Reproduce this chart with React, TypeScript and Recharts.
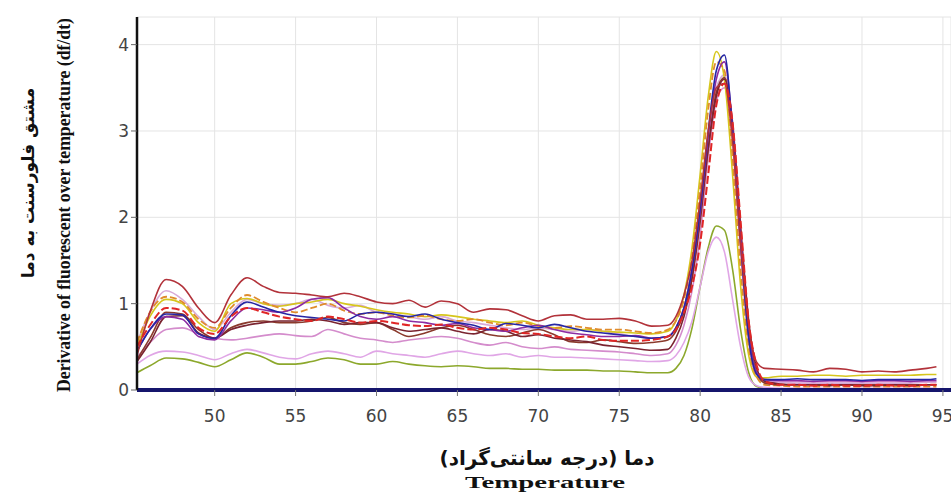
import React from "react";
import { LineChart, Line, XAxis, YAxis, CartesianGrid } from "recharts";

// temperature grid (°C): 45.2, 46..78, 78.5..84 by 0.5, 85..94, 94.6
const temps = [
  45.2, 46, 47, 48, 49, 50, 51, 52, 53, 54, 55, 56, 57, 58, 59, 60, 61, 62, 63, 64, 65, 66, 67,
  68, 69, 70, 71, 72, 73, 74, 75, 76, 77, 78, 78.5, 79, 79.5, 80, 80.5, 81, 81.5, 82, 82.5, 83,
  83.5, 84, 85, 86, 87, 88, 89, 90, 91, 92, 93, 94, 94.6,
];

const darkRed = [
  0.4, 0.9, 1.28, 1.2, 0.95, 0.78, 1.1, 1.3, 1.2, 1.13, 1.12, 1.1, 1.08, 1.12, 1.08, 1.02, 1.0,
  1.04, 0.96, 1.03, 1.0, 0.9, 0.94, 0.93, 0.86, 0.8, 0.86, 0.87, 0.82, 0.82, 0.83, 0.8, 0.74, 0.75,
  0.85, 1.1, 1.5, 2.2, 3.0, 3.5, 3.55, 2.9, 1.7, 0.75, 0.32, 0.25,
  0.24, 0.23, 0.21, 0.25, 0.24, 0.21, 0.22, 0.21, 0.23, 0.25, 0.27,
];
const maroon = [
  0.33, 0.55, 0.85, 0.86, 0.66, 0.6, 0.7, 0.75, 0.78, 0.8, 0.8, 0.82, 0.8, 0.76, 0.78, 0.78, 0.72,
  0.68, 0.7, 0.72, 0.68, 0.65, 0.7, 0.68, 0.62, 0.64, 0.6, 0.58, 0.56, 0.52, 0.5, 0.48, 0.46, 0.47,
  0.6, 0.85, 1.3, 2.0, 2.8, 3.4, 3.6, 3.1, 1.9, 0.8, 0.25, 0.1,
  0.07, 0.06, 0.06, 0.05, 0.06, 0.05, 0.05, 0.06, 0.05, 0.06, 0.06,
];
const brown = [
  0.35, 0.6, 0.9, 0.88, 0.7, 0.6, 0.72, 0.78, 0.8, 0.78, 0.78, 0.8, 0.84, 0.78, 0.76, 0.78, 0.7,
  0.62, 0.66, 0.72, 0.75, 0.7, 0.64, 0.62, 0.66, 0.7, 0.64, 0.56, 0.55, 0.58, 0.56, 0.54, 0.55, 0.58,
  0.68, 0.9, 1.3, 1.95, 2.8, 3.45, 3.62, 3.0, 1.8, 0.7, 0.2, 0.08,
  0.06, 0.06, 0.06, 0.06, 0.06, 0.06, 0.06, 0.06, 0.06, 0.06, 0.06,
];
const yellow = [
  0.5, 0.85, 1.05, 1.0, 0.78, 0.68, 1.0, 1.06, 1.0, 0.97, 1.0, 1.02, 1.05, 1.0, 0.97, 0.93, 0.9,
  0.88, 0.85, 0.87, 0.85, 0.82, 0.8, 0.78, 0.8, 0.75, 0.72, 0.7, 0.7, 0.68, 0.67, 0.66, 0.65, 0.68,
  0.8, 1.1, 1.65, 2.5, 3.4, 3.92, 3.6, 2.5, 1.2, 0.4, 0.15, 0.14,
  0.16, 0.16, 0.17, 0.17, 0.16, 0.17, 0.17, 0.17, 0.17, 0.18, 0.18,
];
const orange = [
  0.55, 0.9, 1.08, 1.02, 0.82, 0.72, 0.95, 1.1, 1.02, 0.95, 0.9, 0.95, 1.0, 0.92, 0.88, 0.9, 0.86,
  0.84, 0.86, 0.82, 0.8, 0.82, 0.78, 0.75, 0.78, 0.74, 0.72, 0.74, 0.72, 0.7, 0.7, 0.68, 0.66, 0.7,
  0.8, 1.05, 1.55, 2.35, 3.25, 3.8, 3.7, 2.7, 1.4, 0.5, 0.15, 0.06,
  0.05, 0.04, 0.04, 0.04, 0.04, 0.04, 0.04, 0.04, 0.04, 0.04, 0.04,
];
const navy = [
  0.45, 0.7, 0.88, 0.87, 0.65, 0.6, 0.86, 1.02, 0.96, 0.9, 0.86, 0.84, 0.82, 0.8, 0.88, 0.9, 0.88,
  0.85, 0.88, 0.82, 0.78, 0.75, 0.7, 0.77, 0.75, 0.72, 0.76, 0.72, 0.68, 0.66, 0.64, 0.62, 0.6, 0.62,
  0.72, 0.95, 1.4, 2.1, 3.0, 3.7, 3.88, 3.0, 1.7, 0.6, 0.18, 0.12,
  0.12, 0.13, 0.12, 0.12, 0.12, 0.11, 0.12, 0.12, 0.12, 0.12, 0.13,
];
const purple = [
  0.45, 0.7, 0.85, 0.82, 0.62, 0.58, 0.8, 0.95, 0.93, 0.9, 0.95, 1.05, 1.07, 0.95, 0.85, 0.82, 0.85,
  0.8, 0.78, 0.75, 0.77, 0.72, 0.7, 0.68, 0.72, 0.75, 0.7, 0.66, 0.64, 0.62, 0.62, 0.63, 0.6, 0.62,
  0.72, 0.95, 1.4, 2.05, 2.95, 3.6, 3.8, 3.05, 1.8, 0.65, 0.2, 0.12,
  0.11, 0.11, 0.1, 0.11, 0.11, 0.1, 0.11, 0.11, 0.1, 0.11, 0.11,
];
const plum = [
  0.55, 0.9, 1.15, 1.05, 0.85, 0.7, 0.9, 1.05, 1.0, 0.98, 1.0, 1.05, 0.98, 0.95, 0.98, 0.9, 0.88,
  0.85, 0.82, 0.85, 0.8, 0.78, 0.75, 0.72, 0.7, 0.72, 0.7, 0.68, 0.7, 0.68, 0.65, 0.62, 0.6, 0.62,
  0.7, 0.95, 1.4, 2.05, 2.9, 3.5, 3.65, 3.0, 1.75, 0.65, 0.2, 0.1,
  0.09, 0.08, 0.08, 0.08, 0.08, 0.08, 0.08, 0.08, 0.08, 0.09, 0.09,
];
const pink = [
  0.38, 0.55, 0.7, 0.72, 0.65, 0.6, 0.58, 0.6, 0.63, 0.65, 0.63, 0.62, 0.7, 0.65, 0.6, 0.58, 0.55,
  0.58, 0.6, 0.62, 0.6, 0.55, 0.52, 0.55, 0.5, 0.48, 0.5, 0.47, 0.46, 0.45, 0.44, 0.42, 0.4, 0.42,
  0.52, 0.75, 1.15, 1.8, 2.7, 3.35, 3.5, 2.85, 1.6, 0.55, 0.15, 0.1,
  0.1, 0.1, 0.09, 0.1, 0.1, 0.09, 0.1, 0.1, 0.09, 0.1, 0.1,
];
const lilac = [
  0.3, 0.4, 0.45, 0.44, 0.4, 0.35, 0.42, 0.47, 0.43, 0.38, 0.36, 0.42, 0.45, 0.42, 0.38, 0.45, 0.42,
  0.4, 0.38, 0.42, 0.45, 0.42, 0.4, 0.42, 0.38, 0.4, 0.38, 0.38, 0.37, 0.36, 0.35, 0.34, 0.33, 0.34,
  0.4, 0.55, 0.8, 1.2, 1.6, 1.77, 1.6, 1.05, 0.5, 0.15, 0.05, 0.03,
  0.02, 0.02, 0.02, 0.02, 0.02, 0.02, 0.02, 0.02, 0.02, 0.02, 0.02,
];
const olive = [
  0.2, 0.28, 0.37, 0.36, 0.32, 0.27, 0.35, 0.43, 0.38, 0.3, 0.3, 0.33, 0.37, 0.35, 0.3, 0.3, 0.33,
  0.3, 0.28, 0.27, 0.28, 0.27, 0.25, 0.25, 0.24, 0.24, 0.23, 0.23, 0.23, 0.22, 0.22, 0.21, 0.2, 0.2,
  0.25, 0.4, 0.72, 1.2, 1.65, 1.9, 1.85, 1.4, 0.7, 0.2, 0.04, 0.02,
  0.01, 0.01, 0.01, 0.01, 0.01, 0.01, 0.01, 0.01, 0.01, 0.01, 0.01,
];
const red = [
  0.5, 0.75, 0.95, 0.92, 0.72, 0.65, 0.85, 0.95, 0.9, 0.85, 0.82, 0.8, 0.85, 0.82, 0.78, 0.8, 0.78,
  0.75, 0.74, 0.76, 0.72, 0.7, 0.72, 0.7, 0.66, 0.65, 0.62, 0.6, 0.62, 0.58, 0.57, 0.57, 0.58, 0.62,
  0.7, 0.9, 1.2, 1.7, 2.5, 3.3, 3.55, 3.1, 1.95, 0.8, 0.28, 0.1,
  0.06, 0.06, 0.05, 0.06, 0.05, 0.05, 0.06, 0.05, 0.05, 0.06, 0.06,
];

const xTicks = [50, 55, 60, 65, 70, 75, 80, 85, 90, 95];
const yTicks = [0, 1, 2, 3, 4];

// back to front
const series = [
  { key: "olive", values: olive, color: "#8ca82c", dash: undefined, w: 1.6 },
  { key: "lilac", values: lilac, color: "#e0a6e6", dash: undefined, w: 1.6 },
  { key: "pink", values: pink, color: "#d48ccc", dash: undefined, w: 1.6 },
  { key: "plum", values: plum, color: "#d8aad8", dash: undefined, w: 1.6 },
  { key: "yellow", values: yellow, color: "#d6c61c", dash: undefined, w: 1.6 },
  { key: "orange", values: orange, color: "#e08c2c", dash: "7 3", w: 1.8 },
  { key: "brown", values: brown, color: "#8a3a2c", dash: undefined, w: 1.6 },
  { key: "maroon", values: maroon, color: "#7a2430", dash: undefined, w: 1.6 },
  { key: "purple", values: purple, color: "#8c2ca2", dash: undefined, w: 1.6 },
  { key: "navy", values: navy, color: "#2626a4", dash: undefined, w: 1.6 },
  { key: "darkRed", values: darkRed, color: "#b2323a", dash: undefined, w: 1.6 },
  { key: "red", values: red, color: "#e02626", dash: "8 3", w: 2 },
];

const rows = temps.map((t, i) => {
  const row: Record<string, number> = { t };
  series.forEach((s) => (row[s.key] = s.values[i]));
  return row;
});

const serif = "'Liberation Serif', 'DejaVu Serif', serif";
const persian = "'DejaVu Sans', sans-serif";

export default function App() {
  return (
    <div style={{ position: "absolute", left: 0, top: 0, width: 951, height: 493, background: "#fff" }}>
      <LineChart width={951} height={493} data={rows} margin={{ top: 17, right: 0, bottom: 0, left: 0 }}>
        <CartesianGrid stroke="#e4e4e4" strokeWidth={1} />
        <XAxis
          dataKey="t"
          type="number"
          domain={[45.2, 95.5]}
          ticks={xTicks}
          allowDataOverflow
          height={103}
          axisLine={{ stroke: "#15156c", strokeWidth: 4 }}
          tickLine={{ stroke: "#777" }}
          tickMargin={14}
          tick={{ fill: "#444", fontSize: 17, fontFamily: "'DejaVu Sans', sans-serif" }}
        />
        <XAxis
          xAxisId="top"
          orientation="top"
          dataKey="t"
          type="number"
          domain={[45.2, 95.5]}
          height={0}
          tick={false}
          tickLine={false}
          axisLine={{ stroke: "#111", strokeWidth: 2 }}
        />
        <YAxis
          type="number"
          domain={[0, 4.32]}
          ticks={yTicks}
          allowDataOverflow
          width={137}
          axisLine={{ stroke: "#111", strokeWidth: 2.5 }}
          tickLine={{ stroke: "#666" }}
          tick={{ fill: "#444", fontSize: 17, fontFamily: "'DejaVu Sans', sans-serif" }}
        />
        {series.map((s) => (
          <Line
            key={s.key}
            dataKey={s.key}
            type="monotone"
            stroke={s.color}
            strokeWidth={s.w}
            strokeDasharray={s.dash}
            dot={false}
            activeDot={false}
            isAnimationActive={false}
          />
        ))}
      </LineChart>
      <svg
        width={951}
        height={493}
        style={{ position: "absolute", left: 0, top: 0, pointerEvents: "none" }}
      >
        <text
          transform="translate(34,183) rotate(-90)"
          textAnchor="middle"
          direction="rtl"
          fontFamily={persian}
          fontWeight="bold"
          fontSize={17}
          fill="#111"
        >
          مشتق فلورسنت به دما
        </text>
        <text
          transform="translate(70,205) rotate(-90)"
          textAnchor="middle"
          fontFamily={serif}
          fontWeight="bold"
          fontSize={19}
          textLength={374}
          lengthAdjust="spacingAndGlyphs"
          fill="#111"
        >
          Derivative of fluorescent over temperature (df/dt)
        </text>
        <text
          x={547}
          y={465}
          textAnchor="middle"
          direction="rtl"
          fontFamily={persian}
          fontWeight="bold"
          fontSize={20}
          fill="#111"
        >
          دما (درجه سانتی‌گراد)
        </text>
        <text
          x={545}
          y={488}
          textAnchor="middle"
          fontFamily={serif}
          fontWeight="bold"
          fontSize={17}
          textLength={160}
          lengthAdjust="spacingAndGlyphs"
          fill="#111"
        >
          Temperature
        </text>
      </svg>
    </div>
  );
}
